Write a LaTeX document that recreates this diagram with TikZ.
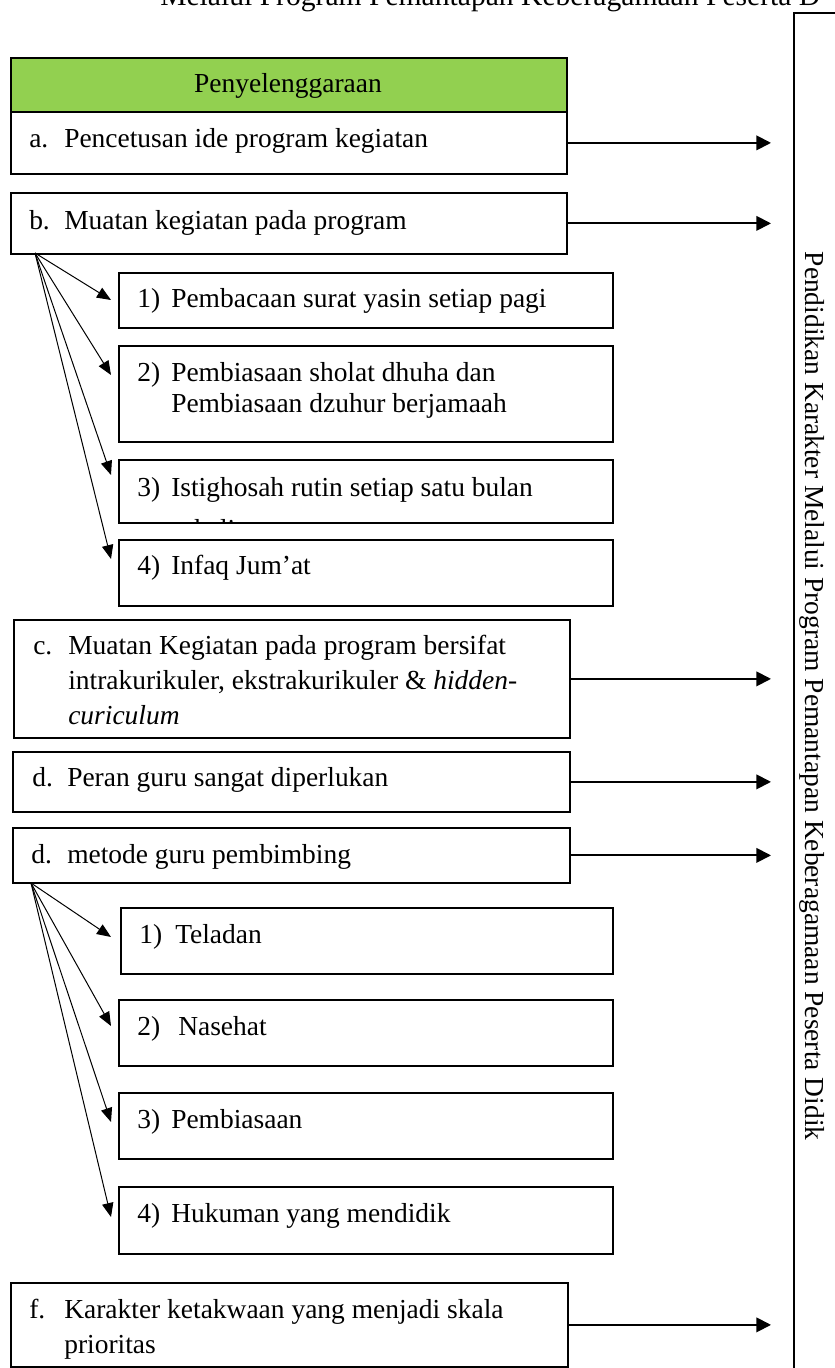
\documentclass[tikz,border=0pt]{standalone}
\usepackage{fontspec}
\setmainfont{Liberation Serif}
\usepackage{xcolor}
\usetikzlibrary{arrows.meta}

\definecolor{hijau}{RGB}{146,208,80}
\newcommand{\px}{0.75pt}

\tikzset{
  kotak/.style={draw, line width=1.3pt, rectangle, inner sep=0pt, anchor=north west},
  teks/.style={anchor=base west, inner sep=0pt, font=\fontsize{20.6}{27}\selectfont},
  panah/.style={line width=1.4pt, -{Triangle[length=11pt,width=11pt]}},
  cabang/.style={line width=0.75pt, -{Triangle[length=10.5pt,width=8.5pt]}},
}

\begin{document}
\begin{tikzpicture}[x=0.75pt,y=0.75pt,yscale=-1,xscale=1]
\useasboundingbox (0,0) rectangle (835,1368);

% Judul atas (terpotong)
\node [anchor=base west, inner sep=0pt, font=\fontsize{22.2}{26}\selectfont] (judul) at (160,5) {Melalui Program Pemantapan Keberagamaan Peserta D};

%Shape: Rectangle kanan
\node [kotak, minimum width=60*\px, minimum height=1400*\px] (utama) at (793,12) {};
\node [teks, anchor=center, rotate=-90] (utama-teks) at (812,696) {Pendidikan Karakter Melalui Program Pemantapan Keberagamaan Peserta Didik};
\coordinate (ujung) at (771,0);

%Shape: Rectangle header
\node [kotak, fill=hijau, minimum width=556*\px, minimum height=54*\px] (hdr) at (10,57) {};
\node [teks, anchor=base] (hdr-teks) at (288,92) {Penyelenggaraan};

%Shape: Rectangle a, b
\node [kotak, minimum width=556*\px, minimum height=62*\px] (a) at (10,111) {};
\node [kotak, minimum width=556*\px, minimum height=61*\px] (b) at (10,192) {};

%Shape: Rectangle sub b
\node [kotak, minimum width=494*\px, minimum height=55*\px] (s1) at (118,272) {};
\node [kotak, minimum width=494*\px, minimum height=96*\px] (s2) at (118,345) {};
\node [kotak, minimum width=494*\px, minimum height=63*\px] (s3) at (118,459) {};
\node [kotak, minimum width=494*\px, minimum height=66*\px] (s4) at (118,539) {};

%Shape: Rectangle c, d, d
\node [kotak, minimum width=556*\px, minimum height=118*\px] (c) at (13,619) {};
\node [kotak, minimum width=557*\px, minimum height=60*\px] (d) at (12,751) {};
\node [kotak, minimum width=557*\px, minimum height=55*\px] (dm) at (12,827) {};

%Shape: Rectangle sub metode
\node [kotak, minimum width=492*\px, minimum height=66*\px] (t1) at (120,907) {};
\node [kotak, minimum width=494*\px, minimum height=66*\px] (t2) at (118,999) {};
\node [kotak, minimum width=494*\px, minimum height=66*\px] (t3) at (118,1092) {};
\node [kotak, minimum width=494*\px, minimum height=67*\px] (t4) at (118,1186) {};

%Shape: Rectangle f
\node [kotak, minimum width=557*\px, minimum height=84*\px] (f) at (10,1282) {};

% Text Node
\node [teks] (a-no) at (29,147) {a.};
\node [teks] (a-isi) at (64,147) {Pencetusan ide program kegiatan};
\node [teks] (b-no) at (29,229) {b.};
\node [teks] (b-isi) at (64,229) {Muatan kegiatan pada program};
\node [teks] (s1-no) at (137,307) {1)};
\node [teks] (s1-isi) at (171,307) {Pembacaan surat yasin setiap pagi};
\node [teks] (s2-no) at (137,381) {2)};
\node [teks] (s2-isi1) at (171,381) {Pembiasaan sholat dhuha dan};
\node [teks] (s2-isi2) at (171,412) {Pembiasaan dzuhur berjamaah};
\node [teks] (s3-no) at (137,496) {3)};
\node [teks] (s3-isi1) at (171,496) {Istighosah rutin setiap satu bulan};
\begin{scope}
\clip (s3.north west) rectangle (s3.south east);
\node [teks] (s3-isi2) at (171,538) {sekali};
\end{scope}
\node [teks] (s4-no) at (137,574) {4)};
\node [teks] (s4-isi) at (171,574) {Infaq Jum’at};
\node [teks] (c-no) at (33,654) {c.};
\node [teks] (c-isi1) at (68,654) {Muatan Kegiatan pada program bersifat};
\node [teks] (c-isi2) at (68,689) {intrakurikuler, ekstrakurikuler \& \textit{hidden-}};
\node [teks] (c-isi3) at (68,724) {\textit{curiculum}};
\node [teks] (d-no) at (32,786) {d.};
\node [teks] (d-isi) at (67,786) {Peran guru sangat diperlukan};
\node [teks] (dm-no) at (31,863) {d.};
\node [teks] (dm-isi) at (67,863) {metode guru pembimbing};
\node [teks] (t1-no) at (139,943) {1)};
\node [teks] (t1-isi) at (175,943) {Teladan};
\node [teks] (t2-no) at (137,1035) {2)};
\node [teks] (t2-isi) at (178,1035) {Nasehat};
\node [teks] (t3-no) at (137,1128) {3)};
\node [teks] (t3-isi) at (171,1128) {Pembiasaan};
\node [teks] (t4-no) at (137,1222) {4)};
\node [teks] (t4-isi) at (171,1222) {Hukuman yang mendidik};
\node [teks] (f-no) at (29,1318) {f.};
\node [teks] (f-isi1) at (64,1318) {Karakter ketakwaan yang menjadi skala};
\node [teks] (f-isi2) at (64,1353) {prioritas};

%Straight Lines ke kotak kanan
\foreach \k in {a,b,c,d,dm,f}
  \draw [panah] (\k.east) -- (\k.east -| ujung);

%Straight Lines cabang
\coordinate (akarB) at (35,253);
\coordinate (akarM) at (31,883);
\foreach \k/\y in {s1/300,s2/375,s3/475,s4/559,t1/937,t2/1026,t3/1122,t4/1217}
  \coordinate (ujung-\k) at (111,\y);
\foreach \k in {s1,s2,s3,s4}
  \draw [cabang] (akarB) -- (ujung-\k);
\foreach \k in {t1,t2,t3,t4}
  \draw [cabang] (akarM) -- (ujung-\k);

\end{tikzpicture}
\end{document}
